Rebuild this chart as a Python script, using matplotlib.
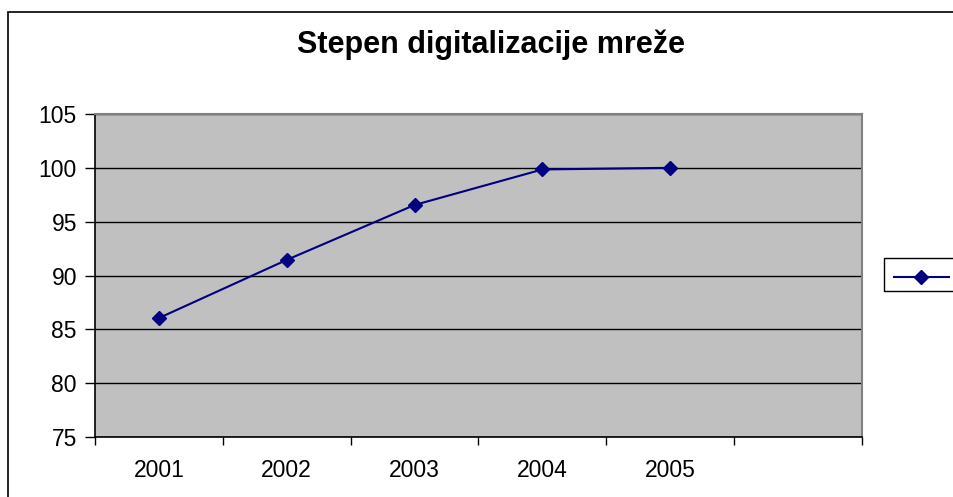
import matplotlib.pyplot as plt
from matplotlib.patches import Rectangle
from matplotlib.lines import Line2D

plt.rcParams['font.family'] = ['Liberation Sans', 'DejaVu Sans']

title = 'Stepen digitalizacije mreže'
categories = ['2001', '2002', '2003', '2004', '2005', '']
values = [86.05, 91.45, 96.55, 99.85, 100.0]
y_ticks = [75, 80, 85, 90, 95, 100, 105]

W, H = 954, 497
fig = plt.figure(figsize=(W / 100, H / 100), dpi=100)
fig.patch.set_facecolor('white')

# outer chart frame (cut off at right and bottom)
fig.add_artist(Rectangle((8 / W, -0.1), 1.2, 1.1 - 12 / H, transform=fig.transFigure,
                         fill=False, edgecolor='black', linewidth=1.2))

ax = fig.add_axes([95 / W, 1 - 437 / H, (862 - 95) / W, (437 - 114) / H])
ax.set_facecolor('#C0C0C0')

x = list(range(len(values)))
ax.plot(x, values, color='#000080', linewidth=1.5, marker='D', markersize=7,
        markerfacecolor='#000080', markeredgecolor='#000080', zorder=3)

ax.set_xlim(-0.5, len(categories) - 0.5)
ax.set_ylim(y_ticks[0], y_ticks[-1])

# category boundaries as major ticks, labels on minor ticks
ax.set_xticks([i - 0.5 for i in range(len(categories) + 1)])
ax.set_xticklabels([])
ax.set_xticks(range(len(categories)), minor=True)
ax.set_xticklabels(categories, minor=True)
ax.tick_params(axis='x', which='minor', length=0, pad=16, labelsize=16.5)
ax.tick_params(axis='x', which='major', length=6, width=1, color='black')

ax.set_yticks(y_ticks)
ax.tick_params(axis='y', length=7, width=1, pad=6, labelsize=16.5)

ax.yaxis.grid(True, color='black', linewidth=1)
ax.set_axisbelow(True)

for side in ['left', 'bottom']:
    ax.spines[side].set_color('black')
    ax.spines[side].set_linewidth(1.2)
for side in ['top', 'right']:
    ax.spines[side].set_color('#808080')
    ax.spines[side].set_linewidth(1.5)

fig.text(491 / W, 1 - 45 / H, title, ha='center', va='center',
         fontsize=22, fontweight='bold')

# legend box without label, cut off at the right edge
fig.add_artist(Rectangle((884 / W, 1 - 291 / H), 0.2, 33 / H, transform=fig.transFigure,
                         facecolor='white', edgecolor='black', linewidth=1))
fig.add_artist(Line2D([894 / W, 949 / W], [1 - 277 / H, 1 - 277 / H], transform=fig.transFigure,
                      color='#000080', linewidth=1.5, zorder=5))
fig.add_artist(Line2D([921 / W], [1 - 277 / H], transform=fig.transFigure,
                      color='#000080', marker='D', markersize=7, linestyle='none', zorder=6))

fig.savefig('out.png', dpi=100)
